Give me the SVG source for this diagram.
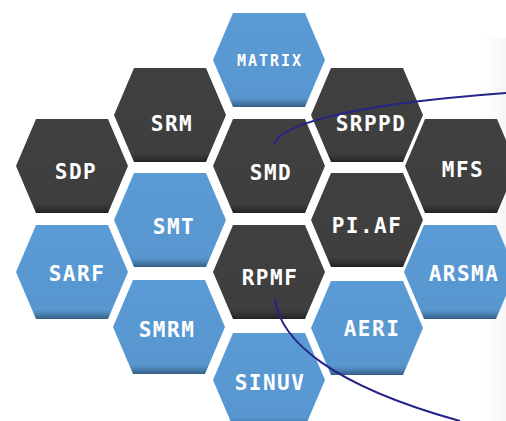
<svg xmlns="http://www.w3.org/2000/svg" width="506" height="421" viewBox="0 0 506 421">
<defs>
<linearGradient id="gb" x1="0" y1="0" x2="0" y2="1">
<stop offset="0" stop-color="#5b9bd5"/>
<stop offset="0.9" stop-color="#5796cf"/>
<stop offset="0.95" stop-color="#4a80b2"/>
<stop offset="1" stop-color="#355d84"/>
</linearGradient>
<linearGradient id="gd" x1="0" y1="0" x2="0" y2="1">
<stop offset="0" stop-color="#404040"/>
<stop offset="0.9" stop-color="#3e3e3e"/>
<stop offset="0.95" stop-color="#333333"/>
<stop offset="1" stop-color="#222222"/>
</linearGradient>
<linearGradient id="gp" x1="0" y1="0" x2="1" y2="0">
<stop offset="0" stop-color="#ffffff"/>
<stop offset="1" stop-color="#f6f6f6"/>
</linearGradient>
<polygon id="hex" points="-56,0 -36,-47 36,-47 56,0 36,47 -36,47"/>
</defs>
<style>
.blue{fill:url(#gb)}
.dark{fill:url(#gd)}
text{font-family:"DejaVu Sans Mono","Liberation Mono",monospace;font-weight:bold;fill:#ffffff;text-anchor:middle;font-size:21px;letter-spacing:1.5px}
.small{font-size:15px;letter-spacing:2px}
.link{fill:none;stroke:#24248a;stroke-width:2}
</style>
<rect x="0" y="0" width="506" height="421" fill="#ffffff"/>
<rect x="482" y="38" width="24" height="383" fill="url(#gp)"/>
<g id="MATRIX"><use href="#hex" x="269" y="60" class="blue"/><text class="small" x="270" y="66">MATRIX</text></g>
<g id="SRM"><use href="#hex" x="170" y="115" class="dark"/><text x="172" y="131">SRM</text></g>
<g id="SRPPD"><use href="#hex" x="367" y="115" class="dark"/><text x="371" y="131">SRPPD</text></g>
<g id="SDP"><use href="#hex" x="72" y="166" class="dark"/><text x="76" y="179">SDP</text></g>
<g id="SMD"><use href="#hex" x="269" y="166" class="dark"/><text x="271" y="180">SMD</text></g>
<g id="MFS"><use href="#hex" x="461" y="166" class="dark"/><text x="463" y="177">MFS</text></g>
<g id="SMT"><use href="#hex" x="170" y="220" class="blue"/><text x="174" y="234">SMT</text></g>
<g id="PIAF"><use href="#hex" x="367" y="220" class="dark"/><text x="367" y="233">PI.AF</text></g>
<g id="SARF"><use href="#hex" x="72" y="272" class="blue"/><text x="77" y="281">SARF</text></g>
<g id="RPMF"><use href="#hex" x="269" y="272" class="dark"/><text x="270" y="285">RPMF</text></g>
<g id="ARSMA"><use href="#hex" x="460" y="272" class="blue"/><text x="464" y="281">ARSMA</text></g>
<g id="SMRM"><use href="#hex" x="169" y="327" class="blue"/><text x="167" y="337">SMRM</text></g>
<g id="AERI"><use href="#hex" x="367" y="328" class="blue"/><text x="372" y="336">AERI</text></g>
<g id="SINUV"><use href="#hex" x="269" y="380" class="blue"/><text x="270" y="390">SINUV</text></g>
<g id="connectors">
<path class="link" d="M274,144 C280,128 330,106 506,93"/>
<path class="link" d="M275,299 C280,340 330,385 460,421"/>
</g>
</svg>
